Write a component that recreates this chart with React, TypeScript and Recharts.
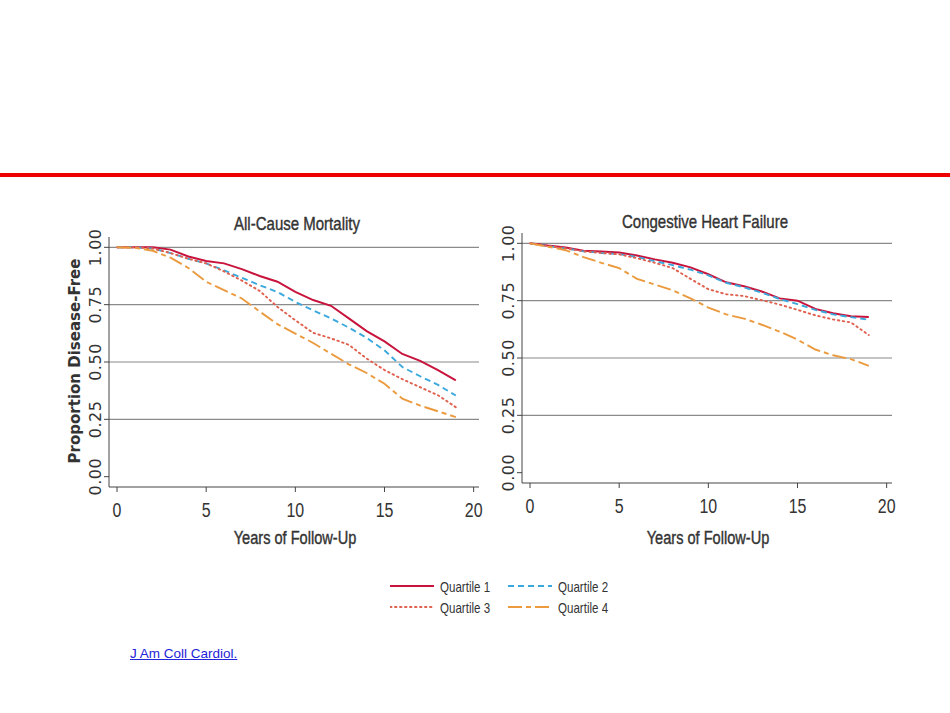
import React from 'react';
import { LineChart, Line, XAxis, YAxis, ReferenceLine } from 'recharts';

const years = [0, 1, 2, 3, 4, 5, 6, 7, 8, 9, 10, 11, 12, 13, 14, 15, 16, 17, 18, 19];

// All-Cause Mortality
const mortalityQ1 = [1, 1, 1, 0.99, 0.96, 0.94, 0.93, 0.905, 0.875, 0.85, 0.806, 0.77, 0.745, 0.69, 0.635, 0.59, 0.535, 0.505, 0.465, 0.42];
const mortalityQ2 = [1, 1, 0.995, 0.975, 0.95, 0.93, 0.9, 0.867, 0.835, 0.805, 0.762, 0.725, 0.69, 0.65, 0.605, 0.551, 0.478, 0.438, 0.4, 0.354];
const mortalityQ3 = [1, 1, 0.995, 0.975, 0.95, 0.93, 0.895, 0.855, 0.81, 0.74, 0.682, 0.627, 0.603, 0.575, 0.515, 0.465, 0.425, 0.39, 0.355, 0.303];
const mortalityQ4 = [1, 0.998, 0.985, 0.955, 0.91, 0.85, 0.813, 0.777, 0.72, 0.665, 0.624, 0.583, 0.536, 0.49, 0.452, 0.405, 0.34, 0.31, 0.285, 0.26];

// Congestive Heart Failure
const chfQ1 = [1, 0.99, 0.982, 0.968, 0.964, 0.96, 0.947, 0.93, 0.915, 0.895, 0.865, 0.83, 0.813, 0.79, 0.76, 0.75, 0.714, 0.695, 0.682, 0.679];
const chfQ2 = [1, 0.988, 0.978, 0.965, 0.958, 0.953, 0.94, 0.922, 0.905, 0.885, 0.86, 0.828, 0.808, 0.785, 0.757, 0.735, 0.71, 0.69, 0.678, 0.667];
const chfQ3 = [1, 0.988, 0.978, 0.965, 0.958, 0.952, 0.935, 0.915, 0.892, 0.845, 0.8, 0.778, 0.77, 0.752, 0.733, 0.71, 0.686, 0.668, 0.655, 0.6];
const chfQ4 = [1, 0.985, 0.97, 0.94, 0.915, 0.892, 0.845, 0.82, 0.795, 0.76, 0.72, 0.69, 0.672, 0.645, 0.615, 0.58, 0.537, 0.512, 0.495, 0.466];

const xTicks = [0, 5, 10, 15, 20];
const yTicks = [0, 0.25, 0.5, 0.75, 1];
const gridValues = [0.25, 0.5, 0.75, 1];
const seriesNames = ['Quartile 1', 'Quartile 2', 'Quartile 3', 'Quartile 4'];

const seriesStyle = [
  { key: 'q1', color: '#c8143c', dash: undefined as string | undefined, width: 2 },
  { key: 'q2', color: '#3aa8dc', dash: '6 4', width: 1.9 },
  { key: 'q3', color: '#e0604e', dash: '1.5 3.5', width: 1.9 },
  { key: 'q4', color: '#eb9a3e', dash: '14 4 5 4', width: 1.9 },
];

const buildRows = (q1: number[], q2: number[], q3: number[], q4: number[]) =>
  years.map((t, i) => ({ t, q1: q1[i], q2: q2[i], q3: q3[i], q4: q4[i] }));

const mortalityRows = buildRows(mortalityQ1, mortalityQ2, mortalityQ3, mortalityQ4);
const chfRows = buildRows(chfQ1, chfQ2, chfQ3, chfQ4);

const condensed = '"Liberation Sans", Arial, sans-serif';
const ink = '#333';

function XTick({ x, y, payload }: any) {
  return (
    <g transform={`translate(${x},${y})`}>
      <text transform="scale(0.76,1)" textAnchor="middle" dy={23} fontSize={21} fill={ink} fontFamily={condensed}>
        {payload.value}
      </text>
    </g>
  );
}

function YTick({ x, y, payload }: any) {
  const bx = x - 1;
  return (
    <text
      x={bx}
      y={y}
      transform={`rotate(-90 ${bx} ${y})`}
      textAnchor="middle"
      fontSize={16}
      letterSpacing={0.5}
      fill={ink}
      fontFamily='"DejaVu Sans", Verdana, sans-serif'
    >
      {payload.value.toFixed(2)}
    </text>
  );
}

function CondensedText({ text, cx, cy, size, scale }: { text: string; cx: number; cy: number; size: number; scale: number }) {
  return (
    <div
      style={{
        position: 'absolute',
        left: cx,
        top: cy,
        transform: `translate(-50%,-50%) scaleX(${scale})`,
        whiteSpace: 'nowrap',
        fontFamily: condensed,
        fontSize: size,
        color: ink,
        WebkitTextStroke: '0.4px #333',
        lineHeight: 1,
      }}
    >
      {text}
    </div>
  );
}

function Panel({ left, top, rows }: { left: number; top: number; rows: any[] }) {
  return (
    <div style={{ position: 'absolute', left, top, width: 450, height: 340 }}>
      <LineChart width={450} height={340} data={rows} margin={{ top: 20, right: 20, bottom: 40, left: 20 }}>
        <XAxis
          dataKey="t"
          type="number"
          domain={[-0.45, 20.3]}
          ticks={xTicks}
          tick={<XTick />}
          tickSize={5}
          stroke="#444"
          height={30}
          allowDataOverflow
        />
        <YAxis
          type="number"
          domain={[-0.045, 1.045]}
          ticks={yTicks}
          tick={<YTick />}
          tickSize={5}
          stroke="#444"
          width={40}
          allowDataOverflow
        />
        {gridValues.map((v) => (
          <ReferenceLine key={v} y={v} stroke="#8a8a8a" strokeWidth={1.2} />
        ))}
        {seriesStyle.map((s, i) => (
          <Line
            key={s.key}
            dataKey={s.key}
            name={seriesNames[i]}
            type="linear"
            stroke={s.color}
            strokeWidth={s.width}
            strokeDasharray={s.dash}
            strokeLinecap={s.key === 'q3' ? 'round' : 'butt'}
            dot={false}
            isAnimationActive={false}
          />
        ))}
      </LineChart>
    </div>
  );
}

function LegendBox() {
  const pos = [
    { x: 390, y: 586 },
    { x: 508, y: 586 },
    { x: 390, y: 607 },
    { x: 508, y: 607 },
  ];
  return (
    <>
      {seriesStyle.map((s, i) => {
        const p = pos[i];
        return (
          <React.Fragment key={s.key}>
            <svg style={{ position: 'absolute', left: p.x, top: p.y - 3 }} width={44} height={6}>
              <line
                x1={0}
                y1={3}
                x2={44}
                y2={3}
                stroke={s.color}
                strokeWidth={s.width}
                strokeDasharray={s.dash}
                strokeLinecap={s.key === 'q3' ? 'round' : 'butt'}
              />
            </svg>
            <div
              style={{
                position: 'absolute',
                left: p.x + 50,
                top: p.y,
                transform: 'translateY(-50%) scaleX(0.77)',
                transformOrigin: 'left center',
                fontFamily: condensed,
                fontSize: 15,
                color: ink,
                whiteSpace: 'nowrap',
                lineHeight: 1,
              }}
            >
              {seriesNames[i]}
            </div>
          </React.Fragment>
        );
      })}
    </>
  );
}

export default function App() {
  return (
    <div style={{ position: 'absolute', left: 0, top: 0, width: 950, height: 713, background: '#fff', overflow: 'hidden' }}>
      <div style={{ position: 'absolute', left: 0, top: 173, width: 950, height: 4, background: '#ee0000' }} />

      <Panel left={49} top={217} rows={mortalityRows} />
      <Panel left={462} top={213} rows={chfRows} />

      <CondensedText text="All-Cause Mortality" cx={297} cy={223} size={19} scale={0.79} />
      <CondensedText text="Congestive Heart Failure" cx={705} cy={221} size={19} scale={0.79} />
      <CondensedText text="Years of Follow-Up" cx={295} cy={538} size={18} scale={0.81} />
      <CondensedText text="Years of Follow-Up" cx={708} cy={538} size={18} scale={0.81} />

      <div
        style={{
          position: 'absolute',
          left: 75,
          top: 361,
          transform: 'translate(-50%,-50%) rotate(-90deg)',
          whiteSpace: 'nowrap',
          fontFamily: '"DejaVu Sans", Verdana, sans-serif',
          fontWeight: 'bold',
          fontSize: 15,
          color: ink,
          lineHeight: 1,
        }}
      >
        Proportion Disease-Free
      </div>

      <LegendBox />

      <a
        href="#"
        style={{
          position: 'absolute',
          left: 130,
          top: 646,
          fontFamily: '"Liberation Sans", Arial, sans-serif',
          fontSize: 13.5,
          color: '#2424d8',
          textDecoration: 'underline',
        }}
      >
        J Am Coll Cardiol.
      </a>
    </div>
  );
}
